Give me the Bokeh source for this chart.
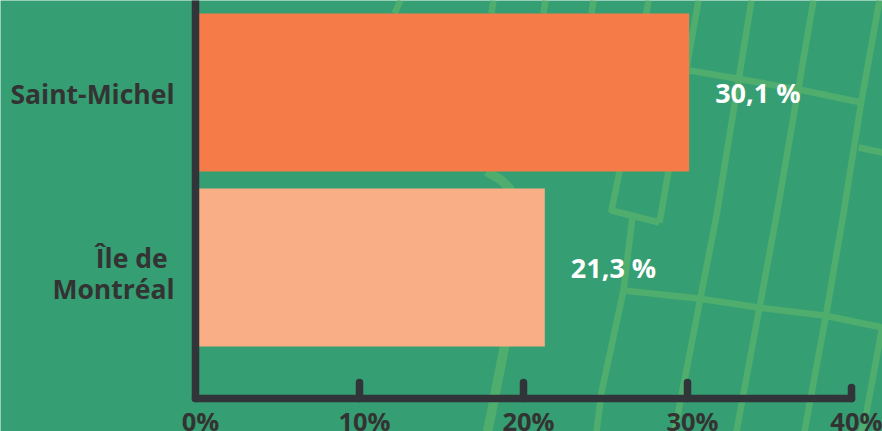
from bokeh.plotting import figure
from bokeh.models import Range1d, LinearAxis, FixedTicker, ColumnDataSource
from bokeh.embed import file_html
from bokeh.resources import INLINE
from bokeh.core.properties import value

categories = ["Île de \nMontréal", "Saint-Michel"]
category_label_rows = [-0.035, 0.994]
values = [21.3, 30.1]
value_labels = ["21,3 %", "30,1 %"]
bar_colors = ["#F9AE85", "#F57B48"]
x_ticks = [0, 10, 20, 30, 40]
x_tick_labels = {t: f"{t}%" for t in x_ticks}

# decorative street map behind the chart, in page pixels
street_xs = [[400, 394], [493, 491], [545, 543], [593, 591],
             [648, 619, 611, 659], [698, 659], [751, 716, 674], [813, 776, 736],
             [879, 861, 843, 826, 804], [882, 866, 861], [632, 623, 601, 596],
             [689, 736, 803, 861], [858, 882], [623, 698, 758, 824, 882]]
street_ys = [[0, 13], [0, 13], [0, 13], [0, 13],
             [0, 171, 210, 222], [0, 222], [0, 215, 431], [0, 215, 431],
             [0, 100, 213, 312, 431], [325, 412, 431], [216, 290, 392, 431],
             [70, 78, 90, 102], [147, 152], [290, 298, 307, 315, 327]]
avenue_xs = [486, 500, 509, 504, 491, 487]
avenue_ys = [171, 179, 188, 346, 412, 431]

BG, STREET, DARK = "#359E72", "#4FAE6E", "#31353A"
W, H = 882, 431
X0, PX_PER_PCT = 195.0, 16.4
ROW1, PX_PER_ROW = 92.0, 175.0   # pixel centre of the top row, spacing


def xr(shift=0.0):
    return Range1d((0 - X0 - shift) / PX_PER_PCT, (W - X0 - shift) / PX_PER_PCT)


p = figure(width=W, height=H, output_backend="svg", toolbar_location=None,
           x_range=xr(), y_range=Range1d(1 - (H - ROW1) / PX_PER_ROW, 1 + ROW1 / PX_PER_ROW),
           min_border=0, x_axis_type=None, y_axis_type=None,
           background_fill_color=BG, border_fill_color=BG, outline_line_color=None)
p.styles = {"position": "absolute", "left": "0", "top": "0"}
p.grid.visible = False
p.extra_x_ranges = {"px": Range1d(0, W), "label": xr(5.0)}
p.extra_y_ranges = {"px": Range1d(H, 0)}

p.multi_line(street_xs, street_ys, line_color=STREET, line_width=6.5, line_join="round",
             x_range_name="px", y_range_name="px")
p.line(avenue_xs, avenue_ys, line_color=STREET, line_width=9.5, line_join="round",
       x_range_name="px", y_range_name="px")

src = ColumnDataSource(dict(y=[0, 1], v=values, c=bar_colors, t=value_labels))
p.hbar(y="y", left=0, right="v", height=158 / PX_PER_ROW, fill_color="c", line_color=None, source=src)
p.text(x="v", y="y", text="t", source=src, x_offset=26, text_color="white",
       text_baseline="middle", text_align="left",
       text_font=value("Open Sans"), text_font_style="bold", text_font_size="27px")

y_axis_at = 1 - (398 - ROW1) / PX_PER_ROW


def x_axis(ticks, tick_len, range_name="default", labels=False):
    ax = LinearAxis(ticker=FixedTicker(ticks=ticks), x_range_name=range_name,
                    fixed_location=y_axis_at, major_tick_out=0, minor_tick_line_color=None,
                    major_tick_in=tick_len, major_tick_line_width=7.5, major_tick_line_cap="round",
                    major_tick_line_color=DARK, axis_line_color=None)
    if labels:
        ax.major_label_overrides = x_tick_labels
        ax.major_label_text_font = "Open Sans"
        ax.major_label_text_font_style = "bold"
        ax.major_label_text_font_size = "25.5px"
        ax.major_label_text_color = "#333333"
        ax.major_label_standoff = 5
        ax.major_tick_line_color = None
    else:
        ax.major_label_overrides = {t: "" for t in ticks}
        ax.major_label_text_font_size = "0px"
    p.add_layout(ax, "below")
    return ax


x_axis(x_ticks[1:4], 16)
x_axis(x_ticks[4:], 11)
x_axis(x_ticks, 0, "label", labels=True)
line = x_axis([], 0)
line.axis_line_color = DARK
line.axis_line_width = 7.5
line.axis_line_cap = "round"
line.bounds = (0, 40)

ya = LinearAxis(ticker=FixedTicker(ticks=category_label_rows),
                major_label_overrides=dict(zip(category_label_rows, categories)),
                fixed_location=0, bounds=(y_axis_at, 1 + ROW1 / PX_PER_ROW),
                axis_line_color=DARK, axis_line_width=7.5, axis_line_cap="round",
                major_tick_line_color=None, minor_tick_line_color=None,
                major_tick_in=0, major_tick_out=0, major_label_standoff=21,
                major_label_text_font="Open Sans", major_label_text_font_style="bold",
                major_label_text_font_size="26.5px", major_label_text_color="#333333",
                major_label_text_line_height=0.88)
p.add_layout(ya, "left")

open("out.html", "w").write(file_html(p, INLINE))
